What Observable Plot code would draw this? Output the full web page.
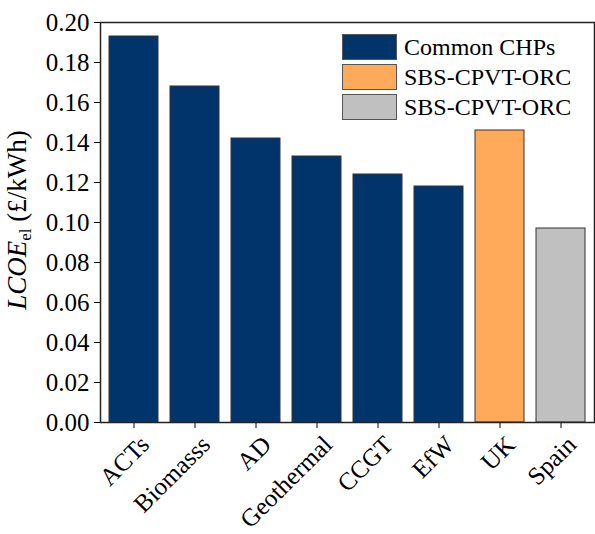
<!DOCTYPE html>
<html>
<head>
<meta charset="utf-8">
<script src="https://cdn.jsdelivr.net/npm/d3@7"></script>
<script src="https://cdn.jsdelivr.net/npm/@observablehq/plot@0.6"></script>
<style>
  body { margin: 0; background: white; }
  #wrap { position: relative; width: 595px; height: 534px; font-family: "Liberation Serif", "Times New Roman", serif; }
  #legend { position: absolute; left: 342px; top: 32px; }
  .row { display: flex; align-items: center; height: 30px; }
  .sw { width: 55px; height: 26px; border: 1px solid #555; box-sizing: border-box; margin-right: 7px; }
  .lab { font-size: 24px; color: #000; line-height: 1; }
  svg text { font-family: "Liberation Serif", "Times New Roman", serif; }
</style>
</head>
<body>
<div id="wrap"></div>
<script>
const categories = ["ACTs", "Biomasss", "AD", "Geothermal", "CCGT", "EfW", "UK", "Spain"];
const values = [0.193, 0.168, 0.142, 0.133, 0.124, 0.118, 0.146, 0.097];
const groups = ["chp", "chp", "chp", "chp", "chp", "chp", "uk", "spain"];
const seriesKeys = ["chp", "uk", "spain"];
const seriesLabels = ["Common CHPs", "SBS-CPVT-ORC", "SBS-CPVT-ORC"];
const seriesColors = ["#02346C", "#FFAA5A", "#C0C0C0"];
const yTicks = [0, 0.02, 0.04, 0.06, 0.08, 0.10, 0.12, 0.14, 0.16, 0.18, 0.20];

const data = categories.map((c, i) => ({cat: c, value: values[i], group: groups[i]}));

const svg = Plot.plot({
  width: 595,
  height: 534,
  marginLeft: 100,
  marginTop: 22,
  marginRight: 1,
  marginBottom: 112,
  style: {fontFamily: "'Liberation Serif', 'Times New Roman', serif", fontSize: "24px", color: "#000", background: "white"},
  x: {domain: categories, paddingInner: 0.2, paddingOuter: 0.12, label: null, tickRotate: -45, tickSize: 6, tickPadding: 4},
  y: {domain: [0, 0.2], ticks: yTicks, tickFormat: d => d.toFixed(2), label: null, tickSize: 6, tickPadding: 5},
  color: {domain: seriesKeys, range: seriesColors},
  marks: [
    Plot.barY(data, {x: "cat", y: "value", fill: "group", stroke: "#333", strokeWidth: 1}),
    Plot.frame({stroke: "#222", strokeWidth: 1.5})
  ]
});

const wrap = document.getElementById("wrap");
wrap.appendChild(svg);

// y tick labels slightly larger
d3.select(svg).selectAll('g[aria-label="y-axis tick label"] text').attr("font-size", 25);
// shift rotated x tick labels to the right and down, as in the reference
d3.select(svg).selectAll('g[aria-label="x-axis tick label"]').each(function() {
  const g = d3.select(this);
  const tr = g.attr("transform") || "";
  g.attr("transform", tr + " translate(11,8)");
  g.selectAll("text").attr("font-size", 25);
});

// y-axis label with italic LCOE and subscript
const t = d3.select(svg).append("text")
  .attr("transform", "translate(26,220) rotate(-90)")
  .attr("text-anchor", "middle")
  .attr("font-size", 27)
  .attr("fill", "#000");
t.append("tspan").attr("font-style", "italic").text("LCOE");
t.append("tspan").attr("font-size", 17).attr("dy", 5).text("el");
t.append("tspan").attr("dy", -5).text(" (£/kWh)");

// legend
const leg = document.createElement("div");
leg.id = "legend";
seriesKeys.forEach((k, i) => {
  const row = document.createElement("div");
  row.className = "row";
  const sw = document.createElement("div");
  sw.className = "sw";
  sw.style.background = seriesColors[i];
  const lab = document.createElement("span");
  lab.className = "lab";
  lab.textContent = seriesLabels[i];
  row.appendChild(sw);
  row.appendChild(lab);
  leg.appendChild(row);
});
wrap.appendChild(leg);
</script>
</body>
</html>
